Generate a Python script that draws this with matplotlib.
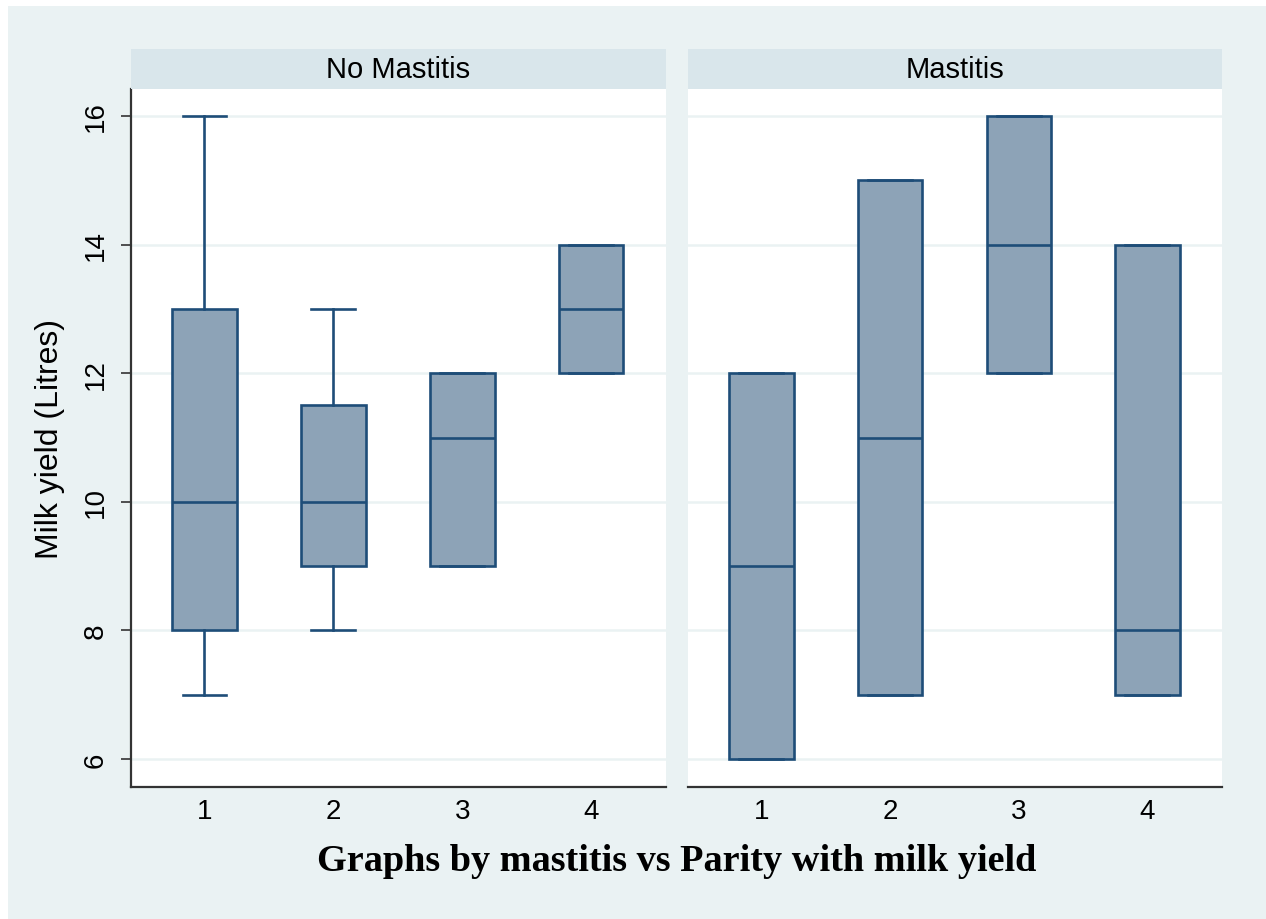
import matplotlib
matplotlib.use("Agg")
import matplotlib.pyplot as plt
from matplotlib.patches import Rectangle

panels = ["No Mastitis", "Mastitis"]
parity = [1, 2, 3, 4]
# per panel: lower whisker, q1, median, q3, upper whisker
whislo = [[7, 8, 9, 12], [6, 7, 12, 7]]
q1 = [[8, 9, 9, 12], [6, 7, 12, 7]]
med = [[10, 10, 11, 13], [9, 11, 14, 8]]
q3 = [[13, 11.5, 12, 14], [12, 15, 16, 14]]
whishi = [[16, 13, 12, 14], [12, 15, 16, 14]]
yticks = [6, 8, 10, 12, 14, 16]

BG = "#EAF2F3"
STRIP = "#D9E6EB"
EDGE = "#1E4D78"
FILL = "#8DA3B7"

W, H = 1266, 920
fig = plt.figure(figsize=(W / 100, H / 100), dpi=100)
fig.patch.set_facecolor("white")
fig.patches.append(Rectangle((8 / W, 0), 1 - 8 / W, 1 - 7 / H, transform=fig.transFigure,
                             facecolor=BG, edgecolor="none", zorder=-10))

font = "Liberation Sans"
lefts = [131, 688]
rights = [666, 1222]
top_px, bot_px = 90, 788
strip_top = 50
LW = 1.9

for i, name in enumerate(panels):
    l, r = lefts[i] / W, rights[i] / W
    ax = fig.add_axes([l, 1 - bot_px / H, r - l, (bot_px - top_px) / H])
    ax.set_facecolor("white")
    stats = []
    for j in range(len(parity)):
        stats.append(dict(whislo=whislo[i][j], q1=q1[i][j], med=med[i][j],
                          q3=q3[i][j], whishi=whishi[i][j], fliers=[], label=str(parity[j])))
    ax.bxp(stats, positions=parity, widths=0.5, capwidths=0.34, patch_artist=True,
           showfliers=False,
           boxprops=dict(facecolor=FILL, edgecolor=EDGE, linewidth=LW),
           medianprops=dict(color=EDGE, linewidth=LW),
           whiskerprops=dict(color=EDGE, linewidth=LW),
           capprops=dict(color=EDGE, linewidth=LW), zorder=3)
    ax.set_xlim(0.43, 4.58)
    ax.set_ylim(5.565, 16.42)
    ax.set_yticks(yticks)
    ax.yaxis.grid(True, color=BG, linewidth=1.8, zorder=0)
    ax.set_axisbelow(True)
    for s in ["top", "right"]:
        ax.spines[s].set_visible(False)
    ax.spines["bottom"].set_color("#333333")
    ax.spines["bottom"].set_linewidth(1.6)
    ax.tick_params(axis="x", length=0, pad=8, labelsize=20)
    for t in ax.get_xticklabels():
        t.set_fontfamily(font)
    if i == 0:
        ax.spines["left"].set_color("#333333")
        ax.spines["left"].set_linewidth(1.6)
        ax.tick_params(axis="y", length=7, width=1.2, color="#333333", pad=9, labelsize=20)
        ax.set_yticklabels([str(v) for v in yticks], rotation=90, va="center", family=font)
        ax.set_ylabel("Milk yield (Litres)", fontsize=23, family=font, labelpad=13)
    else:
        ax.spines["left"].set_visible(False)
        ax.tick_params(axis="y", length=0, labelleft=False)
    # header strip
    sax = fig.add_axes([l, 1 - top_px / H, r - l, (top_px - strip_top) / H])
    sax.set_facecolor(STRIP)
    sax.set_xticks([]); sax.set_yticks([])
    for s in sax.spines.values():
        s.set_visible(False)
    sax.text(0.5, 0.5, name, ha="center", va="center", fontsize=21, family=font,
             transform=sax.transAxes)

fig.text((131 + 1222) / 2 / W, 1 - 862 / H, "Graphs by mastitis vs Parity with milk yield",
         ha="center", va="center", fontsize=27.5, fontweight="bold", family="Liberation Serif")

fig.savefig("out.png", dpi=100, facecolor=fig.get_facecolor())
